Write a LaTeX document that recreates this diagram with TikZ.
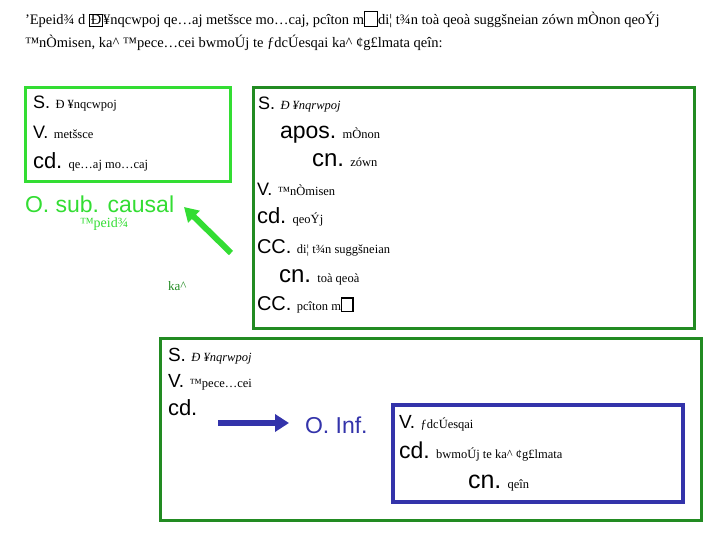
\documentclass[tikz,border=0pt]{standalone}
\usepackage{fontspec}
\setmainfont{Liberation Serif}
\newfontfamily\labfont{Liberation Sans}
\usetikzlibrary{arrows.meta}
\definecolor{limeg}{RGB}{51,221,51}
\definecolor{darkg}{RGB}{34,139,34}
\definecolor{boxblue}{RGB}{51,51,170}
\newcommand\gbox[1]{{\setlength\fboxsep{0.6pt}\setlength\fboxrule{1.2pt}\fbox{#1}}}
\newcommand\lb[2]{{\labfont\fontsize{#1}{#1}\selectfont #2}}
\newcommand\gk[1]{\hspace{3pt}{\fontsize{12.5}{12.5}\selectfont #1}}
\newcommand\gki[1]{\hspace{3pt}{\fontsize{12.5}{12.5}\selectfont\itshape #1}}
\begin{document}
\begin{tikzpicture}[x=1pt,y=-1pt,
  txt/.style={anchor=base west,inner sep=0pt,outer sep=0pt},
  limebox/.style={draw=limeg,line width=3pt},
  greenbox/.style={draw=darkg,line width=3pt},
  bluebox/.style={draw=boxblue,line width=4pt}]
\useasboundingbox (0,0) rectangle (720,540);
% headline
\node[txt,font=\fontsize{14.5}{14.5}\selectfont] (h1) at (25,25) {'Epeid¾ d \gbox{Ð}¥nqcwpoj qe…aj metšsce mo…caj, pcîton m\gbox{\phantom{Ò}}di¦ t¾n toà qeoà suggšneian zówn mÒnon qeoÝj};
\node[txt,font=\fontsize{14.5}{14.5}\selectfont] (h2) at (25,48) {™nÒmisen, ka\^{} ™pece…cei bwmoÚj te ƒdcÚesqai ka\^{} ¢g£lmata qeîn:};
% boxes
\draw[limebox] (25,88) rectangle (230,182);
\draw[greenbox] (253,88) rectangle (694,328);
\draw[greenbox] (160,338) rectangle (701,520);
\draw[bluebox] (393,405) rectangle (683,502);
% left box
\node[txt] (l1) at (33,109) {\lb{18}{S.} \gk{Ð ¥nqcwpoj}};
\node[txt] (l2) at (33,139) {\lb{18}{V.} \gk{metšsce}};
\node[txt] (l3) at (33,169) {\lb{22}{cd.} \gk{qe…aj mo…caj}};
% right box
\node[txt] (r1) at (258,110) {\lb{18}{S.} \gki{Ð ¥nqrwpoj}};
\node[txt] (r2) at (280,139) {\lb{23}{apos.} \gk{mÒnon}};
\node[txt] (r3) at (312,167) {\lb{24}{cn.} \gk{zówn}};
\node[txt] (r4) at (257,196) {\lb{18}{V.} \gk{™nÒmisen}};
\node[txt] (r5) at (257,224) {\lb{22}{cd.} \gk{qeoÝj}};
\node[txt] (r6) at (257,254) {\lb{20}{CC.} \gk{di¦ t¾n suggšneian}};
\node[txt] (r7) at (279,282) {\lb{24}{cn.} \gk{toà qeoà}};
\node[txt] (r8) at (257,310) {\lb{20}{CC.} \gk{pcîton m\gbox{\phantom{Ò}}}};
% causal
\node[txt,text=limeg] (causal) at (25,213) {\lb{23}{O. sub. causal}};
\node[txt,text=limeg,font=\fontsize{14}{14}\selectfont] (epeid) at (80,228) {™peid¾};
\node[txt,text=darkg,font=\fontsize{13}{13}\selectfont] (kai) at (168,290) {ka\^{}};
\coordinate (limetail) at (231,253);
\coordinate (limetip) at (184,207);
\draw[limeg,line width=6pt,-{Triangle[length=14pt,width=16pt]}] (limetail) -- (limetip);
% bottom box
\node[txt] (b1) at (168,361) {\lb{19}{S.} \gki{Ð ¥nqrwpoj}};
\node[txt] (b2) at (168,387) {\lb{19}{V.} \gk{™pece…cei}};
\node[txt] (b3) at (168,415) {\lb{22}{cd.}};
\node[txt,text=boxblue] (inf) at (305,433) {\lb{23}{O. Inf.}};
\coordinate (bluetail) at (218,423);
\coordinate (bluetip) at (289,423);
\draw[boxblue,line width=6pt,-{Triangle[length=14pt,width=17pt]}] (bluetail) -- (bluetip);
% blue box
\node[txt] (f1) at (399,428) {\lb{19}{V.} \gk{ƒdcÚesqai}};
\node[txt] (f2) at (399,458) {\lb{23}{cd.} \gk{bwmoÚj te ka\^{} ¢g£lmata}};
\node[txt] (f3) at (468,488) {\lb{25}{cn.} \gk{qeîn}};
\end{tikzpicture}
\end{document}
